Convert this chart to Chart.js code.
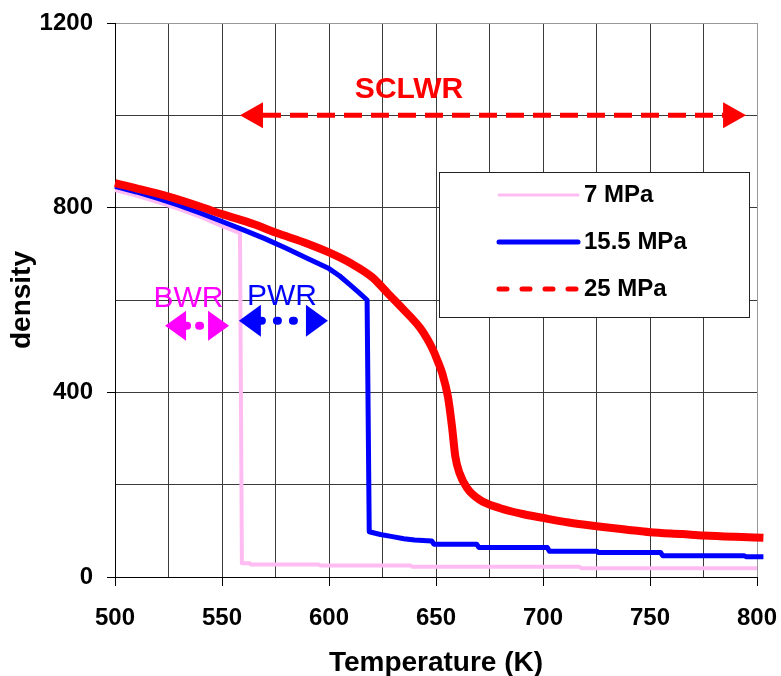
<!DOCTYPE html>
<html>
<head>
<meta charset="utf-8">
<script src="https://cdn.jsdelivr.net/npm/chart.js@4.4.0/dist/chart.umd.min.js"></script>
<style>
  html, body { margin: 0; padding: 0; background: #fff; }
</style>
</head>
<body>
<canvas id="myChart" width="781" height="676"></canvas>
<script>
// 7 MPa
const temp7 = [500, 510, 520, 530, 540, 550, 558.4, 559.3, 563, 563.5, 595, 596, 638, 639, 717, 718, 800];
const dens7 = [838, 826, 812, 797, 780, 760, 745, 30, 30, 27, 27, 25, 25, 22, 22, 19, 19];

// 15.5 MPa
const temp155 = [500, 510, 520, 530, 540, 550, 560, 570, 580, 590, 600, 605, 610, 614, 617.8, 618.8, 624, 629, 635, 640, 648, 649, 669, 670, 702, 703, 725, 726, 755, 756, 794, 795, 803];
const dens155 = [846, 834, 820, 805, 788, 770, 752, 733, 712, 690, 668, 652, 632, 616, 600, 98, 92, 88, 83, 80, 78, 71, 71, 64, 64, 56, 56, 53, 53, 46, 46, 44, 44];

// 25 MPa
const temp25 = [500, 510, 525, 540, 550, 565, 575, 590, 600, 610, 620, 628, 633, 638, 642.5, 646, 648.6, 651, 653, 655.6, 657.5, 659, 661, 664.5, 670.5, 680, 690, 700, 712, 725, 740, 750, 765, 775, 790, 803];
const dens25 = [853, 842, 824, 802, 786, 764, 746, 722, 703, 680, 650, 612, 588, 564, 540, 515, 492, 465, 440, 390, 325, 262, 225, 193, 167, 149, 137, 128, 118, 110, 102, 97, 93, 90, 87, 85];

const seriesLabels = ['7 MPa', '15.5 MPa', '25 MPa'];

// x ticks / y ticks
const xTickMin = 500, xTickMax = 800, xGridStep = 25, xLabelStep = 50;
const yTickMin = 0, yTickMax = 1200, yGridStep = 200, yLabelStep = 400;

// reactor-range arrows
const arrowNames = ['SCLWR', 'BWR', 'PWR'];
const arrowFrom = [558.4, 523.4, 557.9];
const arrowTo = [794.9, 553.3, 599.5];
const arrowLevel = [1000, 544, 555];
const nameTemp = [637.4, 534.3, 578];
const nameDens = [1055, 602, 606];

const pts = (xs, ys) => xs.map((x, i) => ({ x: x, y: ys[i] }));

const arrowStyle = [
  { color: '#ff0000', width: 5, dash: [18, 9], head: 23, half: 13, font: 'bold 30px "Liberation Sans"' },
  { color: '#ff00ff', width: 8, dash: [1, 12], head: 21, half: 15, font: '30px "Liberation Sans"' },
  { color: '#0000ff', width: 8, dash: [1, 15], head: 22, half: 16, font: '30px "Liberation Sans"' }
];

const arrowsPlugin = {
  id: 'arrows',
  afterDatasetsDraw(chart) {
    const c = chart.ctx, xs = chart.scales.x, ys = chart.scales.y;
    arrowNames.forEach((name, i) => {
      const st = arrowStyle[i];
      const x1 = xs.getPixelForValue(arrowFrom[i]);
      const x2 = xs.getPixelForValue(arrowTo[i]);
      const y = ys.getPixelForValue(arrowLevel[i]);
      c.save();
      c.strokeStyle = st.color;
      c.fillStyle = st.color;
      c.lineWidth = st.width;
      c.lineCap = i === 0 ? 'butt' : 'round';
      c.setLineDash(st.dash);
      c.beginPath();
      c.moveTo(x1 + st.head, y);
      c.lineTo(x2 - st.head, y);
      c.stroke();
      c.setLineDash([]);
      c.beginPath();
      c.moveTo(x1, y); c.lineTo(x1 + st.head, y - st.half); c.lineTo(x1 + st.head, y + st.half); c.closePath();
      c.fill();
      c.beginPath();
      c.moveTo(x2, y); c.lineTo(x2 - st.head, y - st.half); c.lineTo(x2 - st.head, y + st.half); c.closePath();
      c.fill();
      c.font = st.font;
      c.textAlign = 'center';
      c.textBaseline = 'middle';
      c.fillText(name, xs.getPixelForValue(nameTemp[i]), ys.getPixelForValue(nameDens[i]));
      c.restore();
    });
  }
};

const legendPlugin = {
  id: 'boxLegend',
  afterDatasetsDraw(chart) {
    const c = chart.ctx;
    const bx = 439, by = 172, bw = 310, bh = 145;
    c.save();
    c.fillStyle = '#fff';
    c.fillRect(bx, by, bw, bh);
    c.strokeStyle = '#222';
    c.lineWidth = 1;
    c.strokeRect(bx + 0.5, by + 0.5, bw, bh);
    chart.data.datasets.forEach((ds, i) => {
      const ly = 195 + i * 47;
      c.strokeStyle = ds.borderColor;
      c.lineWidth = ds.legendWidth;
      c.lineCap = 'round';
      c.setLineDash(ds.legendDash);
      c.beginPath();
      c.moveTo(499, ly);
      c.lineTo(578, ly);
      c.stroke();
      c.setLineDash([]);
      c.fillStyle = '#000';
      c.font = 'bold 24px "Liberation Sans"';
      c.textAlign = 'left';
      c.textBaseline = 'middle';
      c.fillText(ds.label, 584, ly);
    });
    c.restore();
  }
};

const tickFont = { family: 'Liberation Sans', weight: 'bold', size: 24 };
const titleFont = { family: 'Liberation Sans', weight: 'bold', size: 28 };

new Chart(document.getElementById('myChart'), {
  type: 'line',
  data: {
    datasets: [
      { label: seriesLabels[0], data: pts(temp7, dens7), borderColor: '#ffbcf2', borderWidth: 4, order: 3, legendWidth: 3, legendDash: [], tension: 0 },
      { label: seriesLabels[1], data: pts(temp155, dens155), borderColor: '#0000ff', borderWidth: 5, order: 2, legendWidth: 5, legendDash: [], tension: 0 },
      { label: seriesLabels[2], data: pts(temp25, dens25), borderColor: '#ff0000', borderWidth: 8, order: 1, legendWidth: 5, legendDash: [8, 15], cubicInterpolationMode: 'monotone' }
    ].map(d => Object.assign(d, { pointRadius: 0, fill: false, clip: 12, borderJoinStyle: 'round' }))
  },
  options: {
    responsive: false,
    animation: false,
    layout: { padding: { top: 23, right: 24, left: 0, bottom: 0 } },
    plugins: { legend: { display: false }, tooltip: { enabled: false } },
    scales: {
      x: {
        type: 'linear', min: xTickMin, max: xTickMax,
        ticks: {
          stepSize: xGridStep, autoSkip: false, maxRotation: 0, padding: 18,
          color: '#000', font: tickFont,
          callback: v => (v % xLabelStep === 0 ? v : '')
        },
        grid: {
          color: ctx => (ctx.tick && ctx.tick.value === xTickMax ? '#999' : '#3a3a3a'),
          tickColor: ctx => (ctx.tick && ctx.tick.value % xLabelStep === 0 ? '#000' : 'rgba(0,0,0,0)'),
          tickLength: 9, lineWidth: 1
        },
        border: { color: '#000', width: 1 },
        title: { display: true, text: 'Temperature (K)', color: '#000', font: titleFont, padding: { top: 0, bottom: -4 } },
        afterFit: s => { s.height = 99; s.paddingLeft = 0; s.paddingRight = 0; }
      },
      y: {
        min: yTickMin, max: yTickMax,
        ticks: {
          stepSize: yGridStep, autoSkip: false, padding: 14,
          color: '#000', font: tickFont,
          callback: v => (v % yLabelStep === 0 ? v : '')
        },
        grid: {
          color: ctx => (ctx.tick && ctx.tick.value === yTickMax ? '#999' : '#3a3a3a'),
          tickColor: ctx => (ctx.tick && ctx.tick.value % yLabelStep === 0 ? '#000' : 'rgba(0,0,0,0)'),
          tickLength: 8, lineWidth: 1
        },
        border: { color: '#000', width: 1 },
        title: { display: true, text: 'density', color: '#000', font: titleFont, padding: { top: 5, bottom: 0 } },
        afterFit: s => { s.width = 115; s.paddingTop = 0; s.paddingBottom = 0; }
      }
    }
  },
  plugins: [arrowsPlugin, legendPlugin]
});
</script>
</body>
</html>
